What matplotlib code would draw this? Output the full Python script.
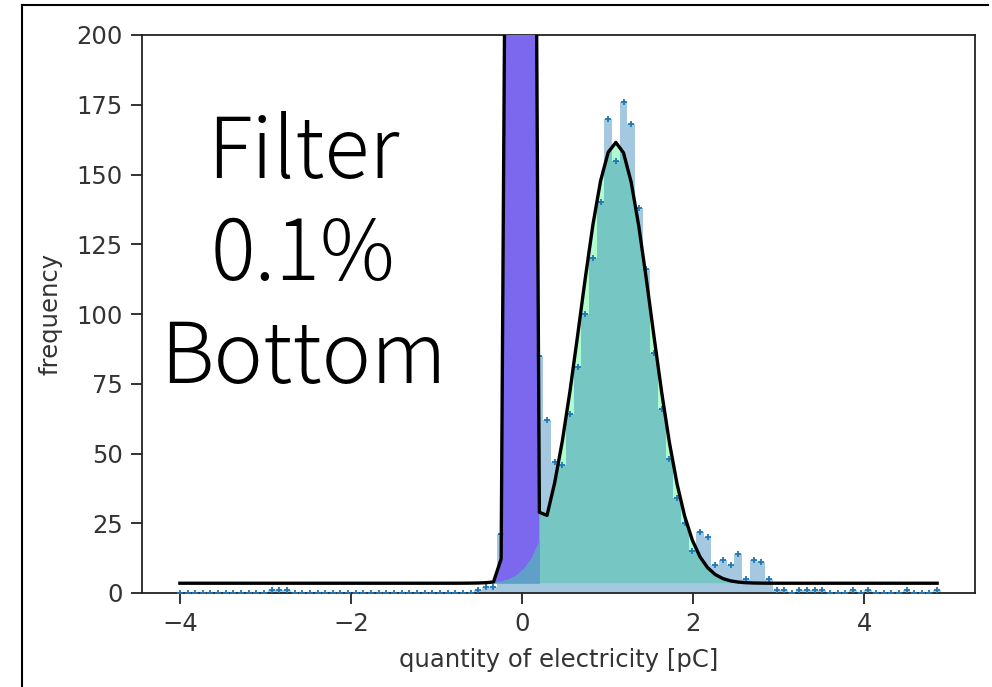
import numpy as np
import matplotlib
matplotlib.use("Agg")
import matplotlib.pyplot as plt
from matplotlib.lines import Line2D

# ---------------- data ----------------
bin_first = -4.0          # first bin centre [pC]
bin_last = 4.85           # last bin centre [pC]
n_bins = 100

counts = [0, 0, 0, 0, 0, 0, 0, 0, 0, 0,
          0, 0, 1, 1, 1, 0, 0, 0, 0, 0,
          0, 0, 0, 0, 0, 0, 0, 0, 0, 0,
          0, 0, 0, 0, 0, 0, 0, 0, 0, 1,
          2, 2, 21, 460, 3330, 3490, 520, 85, 62, 47,
          46, 64, 81, 100, 120, 140, 170, 155, 176, 168,
          138, 116, 86, 66, 48, 34, 25, 15, 22, 20,
          10, 12, 10, 14, 5, 12, 11, 5, 1, 1,
          0, 1, 1, 1, 1, 0, 0, 0, 1, 0,
          1, 0, 0, 0, 0, 1, 0, 0, 0, 1]

# fit parameters
baseline = 3.5
ped_amp, ped_mean, ped_sigma = 4375.0, -0.02, 0.0634
sig_amp, sig_mean, sig_sigma = 158.0, 1.094, 0.415
ped_range = (41, 48)      # bin index range of pedestal fill
sig_range = (41, 78)      # bin index range of signal fill

xlabel = "quantity of electricity [pC]"
ylabel = "frequency"
yticks = [0, 25, 50, 75, 100, 125, 150, 175, 200]
overlay = ["Filter", "0.1%", "Bottom"]

# ---------------- derived ----------------
x = np.linspace(bin_first, bin_last, n_bins)
bw = x[1] - x[0]
edges = np.concatenate([x - bw / 2, [x[-1] + bw / 2]])
counts = np.array(counts, dtype=float)


def gauss(xx, a, m, s):
    return a * np.exp(-(xx - m) ** 2 / (2 * s ** 2))


ped = gauss(x, ped_amp, ped_mean, ped_sigma)
sig = gauss(x, sig_amp, sig_mean, sig_sigma)
total = ped + sig + baseline

# ---------------- figure ----------------
W, H = 992, 687
fig = plt.figure(figsize=(W / 100, H / 100), dpi=100)
ax = fig.add_axes([142 / W, 1 - 593 / H, (975 - 142) / W, (593 - 35) / H])

s0, s1 = sig_range
ax.fill_between(x[s0:s1], baseline, total[s0:s1], color="#b0fdcf",
                linewidth=0, zorder=1)
ax.stairs(counts, edges, fill=True, color="tab:blue", alpha=0.4,
          linewidth=0, zorder=2)
p0, p1 = ped_range
ax.fill_between(x[p0:p1], baseline, total[p0:p1], color="mediumslateblue",
                linewidth=0, zorder=3)
ax.fill_between(x[p0:p1], baseline,
                np.minimum(sig[p0:p1] + baseline, total[p0:p1]),
                color="#60a0c8", linewidth=0, zorder=3.5)
ax.plot(x, counts, linestyle="none", marker="+", color="tab:blue",
        markersize=4.5, markeredgewidth=1.3, zorder=4)
ax.plot(x, total, color="black", linewidth=2.4, zorder=5)

span = bin_last - bin_first
ax.set_xlim(bin_first - 0.05 * span, bin_last + 0.05 * span)
ax.set_ylim(0, 200)
ax.set_yticks(yticks)
ax.set_xticks([-4, -2, 0, 2, 4])
ax.set_xticklabels(["\u22124", "\u22122", "0", "2", "4"])

for sp in ax.spines.values():
    sp.set_linewidth(1.3)
    sp.set_color("#222222")
ax.tick_params(labelsize=17.5, length=8, width=1.3, pad=6, colors="#222222",
               labelcolor="#333333")
ax.set_xlabel(xlabel, fontsize=17.5, color="#333333", labelpad=8)
ax.set_ylabel(ylabel, fontsize=17.5, color="#333333", labelpad=10)

# big overlay text
for txt, yb in zip(overlay, [178, 280, 383]):
    fig.text(303 / W, 1 - yb / H, txt, ha="center", va="baseline",
             fontsize=60, color="black", fontweight="light",
             family=["Noto Sans CJK JP", "DejaVu Sans"])

# screenshot frame
fig.add_artist(Line2D([22 / W, 22 / W], [0, 1 - 5 / H], color="black",
                      linewidth=1.5, transform=fig.transFigure))
fig.add_artist(Line2D([22 / W, 988 / W], [1 - 5 / H, 1 - 5 / H], color="black",
                      linewidth=1.5, transform=fig.transFigure))

fig.savefig("out.png", dpi=100)
